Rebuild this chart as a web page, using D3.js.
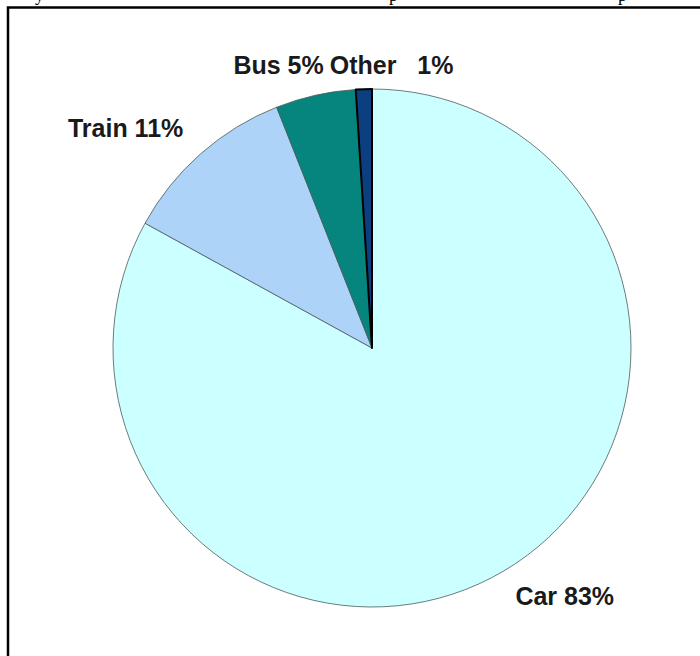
<!DOCTYPE html>
<html>
<head>
<meta charset="utf-8">
<script src="https://cdn.jsdelivr.net/npm/d3@7"></script>
<style>
  body { margin: 0; background: #fff; }
  svg { display: block; }
  .label { font-family: "Liberation Sans", Arial, sans-serif; font-weight: bold; font-size: 25px; fill: #1a1a1a; white-space: pre; }
</style>
</head>
<body>
<svg width="700" height="656"></svg>
<script>
// Data
var categories = ["Car", "Train", "Bus", "Other"];
var values = [83, 11, 5, 1];
var labels = ["Car 83%", "Train 11%", "Bus 5%", "Other   1%"];
var colors = ["#ccffff", "#aed3f8", "#05857d", "#0c3f80"];

var svg = d3.select("svg"),
  width = +svg.attr("width"),
  height = +svg.attr("height");

// cut-off line of text from the page above (only descenders show)
var topText = svg.append("g").style("font-family", "'Liberation Serif', 'Times New Roman', serif").style("font-size", "18px");
topText.append("text").attr("x", 35).attr("y", 1).text("y");
topText.append("text").attr("x", 618).attr("y", 1).text("p");
topText.append("text").attr("x", 389).attr("y", 1).text("p");

// frame (left + top only, rest is cut off)
svg.append("path")
  .attr("d", "M8,656 L8,7.5 L700,7.5")
  .attr("fill", "none")
  .attr("stroke", "#000")
  .attr("stroke-width", 2.5);

var cx = 372, cy = 348, radius = 259;

var g = svg.append("g").attr("transform", "translate(" + cx + "," + cy + ")");

var pie = d3.pie().sort(null).value(function(d) { return d; });
var arcs = pie(values);

var arc = d3.arc().innerRadius(0).outerRadius(radius);

g.selectAll(".slice")
  .data(arcs)
  .enter()
  .append("path")
  .attr("class", "slice")
  .attr("d", arc)
  .attr("fill", function(d, i) { return colors[i]; })
  .attr("stroke", function(d, i) { return i == 3 ? "#000" : "#4a5a5a"; })
  .attr("stroke-width", function(d, i) { return i == 3 ? 2 : 0.8; })
  .attr("stroke-linejoin", "round");

// labels sit outside the pie, nudged like Excel's best fit
var labelArc = d3.arc().innerRadius(300).outerRadius(300);
var nudge = [[40, -10], [-48, 5], [-28, 10], [29, 17]];

g.selectAll(".label")
  .data(arcs)
  .enter()
  .append("text")
  .attr("class", "label")
  .attr("text-anchor", "middle")
  .attr("dy", "0.36em")
  .attr("x", function(d, i) { return labelArc.centroid(d)[0] + nudge[i][0]; })
  .attr("y", function(d, i) { return labelArc.centroid(d)[1] + nudge[i][1]; })
  .text(function(d, i) { return labels[i]; });
</script>
</body>
</html>
